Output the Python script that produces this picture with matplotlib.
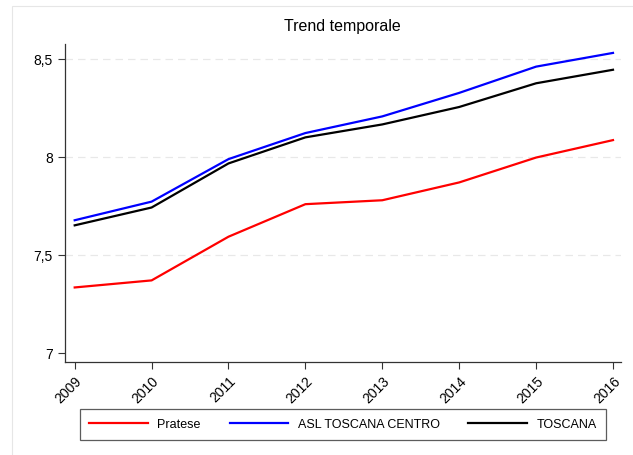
import matplotlib
matplotlib.use("Agg")
import matplotlib.pyplot as plt
from matplotlib.patches import Rectangle

years = [2009, 2010, 2011, 2012, 2013, 2014, 2015, 2016]
pratese = [7.334, 7.370, 7.593, 7.759, 7.779, 7.870, 7.997, 8.086]
asl_centro = [7.677, 7.772, 7.989, 8.122, 8.207, 8.327, 8.461, 8.531]
toscana = [7.651, 7.742, 7.967, 8.100, 8.166, 8.255, 8.376, 8.445]
series_labels = ["Pratese", "ASL TOSCANA CENTRO", "TOSCANA"]
y_ticks = [7, 7.5, 8, 8.5]
y_tick_labels = ["7", "7,5", "8", "8,5"]

plt.rcParams['font.family'] = ['Liberation Sans', 'DejaVu Sans']

fig = plt.figure(figsize=(6.33, 4.56), dpi=100)
fig.patch.set_facecolor('white')
fig.patches.append(Rectangle((12/633, -0.1), 1.2, 1 - 7/456 + 0.1,
                             transform=fig.transFigure, fill=False,
                             edgecolor='#e6e6e6', linewidth=0.8))

ax = fig.add_axes([64.7/633, 1 - 363.3/456, (621-64.7)/633, (363.3-44.7)/456])

ax.plot(years, pratese, color='#ff0000', lw=1.6, label=series_labels[0])
ax.plot(years, asl_centro, color='#0000ff', lw=1.6, label=series_labels[1])
ax.plot(years, toscana, color='#000000', lw=1.6, label=series_labels[2])

ax.set_xlim(2009 - 0.13, 2016 + 0.104)
ax.set_ylim(7 - 0.048, 8.578)
ax.set_xticks(years)
ax.set_xticklabels([str(y) for y in years], rotation=45, ha='right',
                   rotation_mode='anchor', fontsize=10)
ax.set_yticks(y_ticks)
ax.set_yticklabels(y_tick_labels, fontsize=10)
ax.tick_params(axis='both', direction='out', length=5, width=0.8, color='#333333')
ax.tick_params(axis='x', pad=3)

for v in y_ticks[1:]:
    ax.axhline(v, color='#e8e8e8', lw=0.9, ls=(0, (6, 4)), zorder=0)

for s in ['top', 'right']:
    ax.spines[s].set_visible(False)
for s in ['left', 'bottom']:
    ax.spines[s].set_color('#333333')
    ax.spines[s].set_linewidth(0.9)

ax.set_title("Trend temporale", fontsize=11.5, pad=10)

leg = fig.legend(loc='center', bbox_to_anchor=(343/633, 1 - 425.5/456), ncol=3,
                 fontsize=9, handlelength=4.7, handletextpad=0.75,
                 columnspacing=2.3, frameon=True, fancybox=False,
                 borderpad=0.75)
leg.get_frame().set_edgecolor('#333333')
leg.get_frame().set_linewidth(0.9)

fig.savefig("out.png", dpi=100, facecolor='white')
